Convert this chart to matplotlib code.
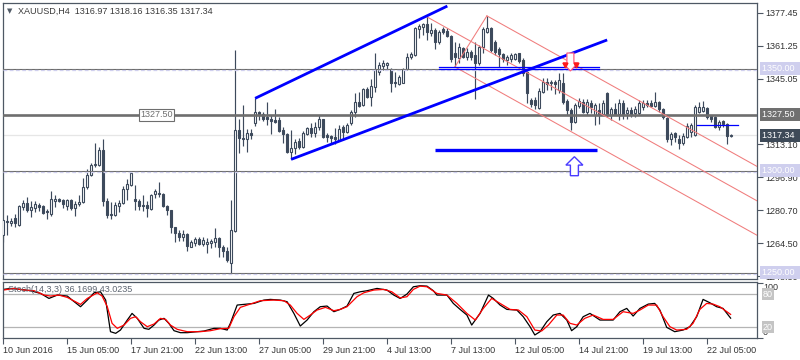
import matplotlib
matplotlib.use("Agg")
import matplotlib.pyplot as plt
import numpy as np
from matplotlib.patches import FancyArrow

plt.rcParams['font.family'] = ['Liberation Sans', 'DejaVu Sans']

# XAUUSD H4 candles, 10 Jun - 22 Jul 2016
opens = [
    1268.5, 1275.0, 1274.6, 1276.9, 1273.6, 1282.3, 1284.3, 1281.0, 1282.0, 1283.1,
    1282.6, 1280.3, 1278.7, 1285.3, 1286.3, 1285.6, 1283.0, 1285.6, 1282.0, 1283.6,
    1284.8, 1292.0, 1297.9, 1302.7, 1302.9, 1310.4, 1285.3, 1279.0, 1278.2, 1283.0,
    1284.0, 1291.0, 1293.2, 1286.1, 1285.3, 1283.3, 1283.3, 1281.5, 1288.6, 1289.2,
    1288.6, 1283.0, 1280.7, 1272.4, 1269.4, 1267.7, 1269.0, 1262.8, 1264.8, 1266.4,
    1264.0, 1264.1, 1264.8, 1265.3, 1266.9, 1262.8, 1260.8, 1254.9, 1270.7, 1319.9,
    1316.2, 1315.4, 1318.4, 1323.2, 1328.9, 1327.8, 1326.2, 1325.5, 1324.9, 1324.9,
    1320.0, 1318.0, 1309.3, 1311.0, 1314.7, 1311.5, 1318.0, 1320.8, 1318.7, 1321.3,
    1325.2, 1317.5, 1317.0, 1316.7, 1315.1, 1321.3, 1319.2, 1323.6, 1328.9, 1333.8,
    1332.2, 1339.9, 1336.2, 1341.2, 1348.6, 1351.3, 1351.8, 1349.7, 1343.6, 1342.5,
    1343.1, 1349.7, 1355.6, 1356.7, 1369.3, 1370.6, 1371.9, 1367.6, 1368.9, 1363.3,
    1369.3, 1368.6, 1366.0, 1357.8, 1355.1, 1360.0, 1355.9, 1358.3, 1356.7, 1352.9,
    1360.5, 1368.1, 1369.8, 1363.3, 1359.5, 1357.2, 1354.3, 1354.6, 1354.6, 1357.6,
    1354.3, 1348.6, 1334.6, 1334.6, 1330.6, 1338.7, 1343.6, 1342.8, 1343.6, 1339.5,
    1342.8, 1334.1, 1329.7, 1323.9, 1331.7, 1333.8, 1328.9, 1333.3, 1327.2, 1329.7,
    1327.7, 1338.2, 1327.2, 1330.1, 1327.7, 1333.3, 1328.1, 1329.7, 1328.1, 1328.1,
    1331.4, 1333.3, 1333.3, 1331.7, 1333.8, 1330.1, 1326.1, 1315.4, 1318.3, 1315.4,
    1313.4, 1316.4, 1319.0, 1317.5, 1328.9, 1329.4, 1330.6, 1326.8, 1326.4, 1321.6,
    1324.4, 1322.9, 1316.97]
highs = [
    1276.1, 1278.4, 1276.9, 1278.6, 1283.2, 1285.7, 1287.2, 1285.2, 1285.2, 1284.0,
    1283.1, 1281.5, 1290.1, 1288.2, 1286.8, 1286.0, 1286.2, 1286.2, 1285.2, 1288.2,
    1296.7, 1300.7, 1303.7, 1313.4, 1311.7, 1315.4, 1286.5, 1284.8, 1284.8, 1285.6,
    1292.4, 1296.2, 1299.5, 1292.9, 1286.0, 1288.1, 1285.1, 1288.6, 1290.9, 1294.4,
    1289.0, 1283.1, 1281.0, 1272.7, 1271.0, 1271.0, 1269.4, 1266.1, 1267.4, 1267.7,
    1267.4, 1266.9, 1266.4, 1271.9, 1267.4, 1263.6, 1262.8, 1285.6, 1359.2, 1325.3,
    1332.2, 1320.3, 1320.3, 1335.5, 1329.4, 1328.9, 1333.9, 1327.3, 1330.1, 1326.2,
    1321.3, 1318.4, 1320.0, 1315.4, 1315.9, 1319.6, 1321.6, 1323.6, 1324.1, 1327.3,
    1325.5, 1318.4, 1317.5, 1320.8, 1322.4, 1322.4, 1323.6, 1329.8, 1337.9, 1338.7,
    1340.4, 1341.2, 1344.8, 1357.9, 1353.5, 1354.3, 1353.4, 1350.2, 1348.6, 1347.0,
    1350.2, 1357.9, 1358.4, 1370.6, 1371.9, 1372.3, 1375.9, 1372.3, 1369.8, 1368.9,
    1370.3, 1369.8, 1366.5, 1363.3, 1362.8, 1360.8, 1360.0, 1359.2, 1363.3, 1361.7,
    1370.3, 1375.9, 1370.3, 1364.2, 1360.5, 1357.9, 1356.7, 1357.9, 1357.9, 1357.9,
    1355.1, 1349.1, 1335.5, 1336.0, 1340.4, 1345.3, 1345.3, 1344.5, 1344.5, 1347.8,
    1347.8, 1335.3, 1330.6, 1333.1, 1335.5, 1335.0, 1335.0, 1334.7, 1333.1, 1333.1,
    1334.7, 1338.7, 1331.1, 1333.1, 1335.0, 1334.7, 1331.1, 1331.1, 1331.7, 1334.7,
    1334.7, 1334.7, 1334.7, 1338.8, 1334.3, 1330.6, 1326.4, 1319.1, 1319.1, 1317.5,
    1318.3, 1323.6, 1323.6, 1332.2, 1333.8, 1334.3, 1331.4, 1327.2, 1326.8, 1324.8,
    1324.8, 1323.6, 1318.16]
lows = [
    1265.2, 1268.6, 1273.1, 1272.4, 1273.1, 1280.7, 1279.8, 1277.3, 1279.8, 1280.3,
    1279.0, 1276.2, 1278.1, 1282.3, 1284.8, 1282.0, 1281.0, 1280.7, 1277.8, 1282.6,
    1284.3, 1290.9, 1297.4, 1302.0, 1302.5, 1282.8, 1277.0, 1276.4, 1277.7, 1279.8,
    1283.6, 1285.6, 1292.4, 1280.7, 1280.7, 1280.3, 1277.3, 1281.0, 1286.5, 1287.0,
    1282.3, 1278.2, 1269.7, 1265.2, 1265.7, 1265.7, 1260.8, 1262.5, 1263.1, 1263.6,
    1263.1, 1259.5, 1262.0, 1262.8, 1257.8, 1257.8, 1255.4, 1250.0, 1270.2, 1308.5,
    1312.1, 1309.3, 1315.4, 1321.9, 1324.8, 1324.5, 1322.4, 1318.0, 1323.2, 1319.1,
    1313.8, 1308.5, 1305.6, 1308.2, 1310.5, 1311.0, 1317.5, 1316.7, 1316.4, 1320.0,
    1315.9, 1314.2, 1313.5, 1313.1, 1314.7, 1315.1, 1318.4, 1322.4, 1326.2, 1331.4,
    1331.7, 1335.9, 1331.7, 1338.7, 1346.9, 1349.4, 1349.4, 1338.7, 1341.2, 1342.0,
    1342.8, 1349.4, 1354.6, 1356.2, 1364.9, 1366.5, 1364.0, 1366.0, 1359.5, 1362.2,
    1366.9, 1365.6, 1353.4, 1350.9, 1352.9, 1355.1, 1354.3, 1354.3, 1335.3, 1351.8,
    1357.6, 1367.6, 1358.4, 1356.7, 1350.9, 1353.4, 1351.8, 1353.4, 1354.3, 1352.9,
    1346.4, 1333.4, 1331.4, 1330.1, 1330.1, 1337.9, 1339.5, 1339.5, 1337.8, 1338.1,
    1332.8, 1327.2, 1319.9, 1323.4, 1330.6, 1328.1, 1327.2, 1328.1, 1322.3, 1323.1,
    1327.2, 1326.4, 1324.8, 1327.2, 1324.8, 1325.6, 1325.6, 1326.4, 1326.4, 1327.2,
    1329.7, 1331.4, 1331.1, 1331.4, 1328.9, 1325.6, 1314.2, 1312.5, 1314.2, 1310.9,
    1312.5, 1315.9, 1316.4, 1317.0, 1328.4, 1328.9, 1325.6, 1323.9, 1320.8, 1320.0,
    1321.6, 1312.9, 1316.35]
closes = [
    1276.0, 1275.6, 1275.6, 1274.4, 1282.7, 1284.3, 1281.0, 1282.3, 1283.7, 1282.3,
    1279.3, 1279.7, 1286.0, 1286.0, 1285.3, 1283.6, 1285.6, 1282.0, 1283.6, 1284.8,
    1291.9, 1297.9, 1302.9, 1303.4, 1310.4, 1285.3, 1278.5, 1278.3, 1283.1, 1284.3,
    1291.1, 1293.4, 1298.7, 1285.1, 1283.0, 1282.6, 1282.0, 1288.1, 1290.2, 1288.7,
    1283.0, 1280.7, 1272.4, 1269.4, 1267.7, 1269.0, 1263.1, 1265.0, 1266.4, 1264.1,
    1266.1, 1265.0, 1265.6, 1266.9, 1262.5, 1260.8, 1256.2, 1271.0, 1319.9, 1315.9,
    1315.4, 1318.4, 1317.4, 1328.9, 1327.8, 1325.5, 1325.2, 1324.5, 1323.9, 1319.6,
    1317.9, 1309.3, 1311.0, 1314.2, 1311.8, 1318.4, 1320.8, 1318.4, 1321.3, 1325.2,
    1316.7, 1316.7, 1316.2, 1315.4, 1320.3, 1319.2, 1322.4, 1328.9, 1333.8, 1331.7,
    1339.9, 1336.2, 1341.5, 1349.4, 1351.8, 1352.9, 1352.9, 1342.8, 1342.8, 1345.8,
    1349.7, 1355.9, 1357.2, 1369.8, 1370.9, 1371.9, 1368.1, 1368.9, 1363.3, 1368.1,
    1368.1, 1366.0, 1354.6, 1355.6, 1360.5, 1355.6, 1358.3, 1355.6, 1352.9, 1360.8,
    1369.3, 1369.8, 1359.2, 1358.4, 1357.2, 1354.6, 1355.9, 1356.7, 1357.2, 1353.9,
    1347.8, 1337.9, 1332.7, 1332.2, 1339.2, 1343.6, 1342.5, 1343.6, 1342.5, 1344.5,
    1333.6, 1329.7, 1323.9, 1332.2, 1334.3, 1328.9, 1333.8, 1331.4, 1332.2, 1327.2,
    1333.1, 1327.2, 1330.1, 1327.7, 1333.3, 1327.2, 1329.7, 1327.7, 1330.1, 1333.1,
    1333.1, 1332.2, 1331.7, 1333.8, 1330.1, 1326.4, 1315.4, 1318.0, 1316.4, 1313.4,
    1317.0, 1322.0, 1322.4, 1331.4, 1331.4, 1331.1, 1326.4, 1325.6, 1321.3, 1324.1,
    1322.9, 1317.0, 1317.34]

# Stochastic (14,3,3): %K (black) and %D (red), sampled along the bar axis
stoch_k_bar = [0, 1.8, 4.3, 6.8, 9.3, 11.4, 13.5, 16, 17.2, 19.3, 21, 22.7, 24.3, 25.6, 26.8, 28.1,
               29.3, 31, 32.2, 33.5, 35.2, 36.4, 37.7, 38.9, 40.2, 41.4, 42.7, 44.3, 46, 48.5, 50.2,
               52.7, 54.3, 56, 56.8, 58.5, 61, 62.7, 65.2, 66.8, 69.3, 71, 72.7, 74.3, 76, 77.7,
               79.3, 81, 82.7, 84.3, 86, 87.7, 89.3, 91, 93.5, 96, 97.7, 99.3, 101, 102.6, 104.3,
               106, 107.6, 108.5, 111, 112.6, 114.3, 116, 117.2, 119.3, 121.4, 122.6, 124.3, 126,
               128.5, 130.1, 131.8, 133, 134.3, 136, 137.6, 139.3, 141, 142.2, 143.5, 145.1, 146.8,
               149.3, 152.6, 154.3, 156, 157.6, 159.3, 161.4, 163, 164.3, 166, 168, 170.1, 171.8,
               173.5, 175.1, 176.8, 178.5, 180.1, 182]
stoch_k = [88.5, 90.3, 88.5, 86.1, 81.2, 72.1, 78.2, 76.4, 69.1, 57, 69.1, 82.4, 84.2, 69.1, 11.5, 8.5,
           14.5, 32.7, 44.8, 35.8, 17.6, 15.8, 23.6, 32.7, 35.8, 26.7, 13.3, 9.7, 9.7, 11.5, 12.7,
           17.6, 17.6, 14.5, 26.7, 60, 61.8, 63, 69.1, 70.3, 69.1, 66.1, 44.8, 21.8, 32.7, 47.9,
           57, 58.2, 47.9, 52.1, 58.2, 81.2, 84.2, 86.1, 90.3, 87.3, 78.2, 72, 80, 93.3, 95.2,
           94.5, 86.1, 78.2, 78.2, 63, 52.1, 41.8, 23.6, 44.8, 78.2, 72.1, 60, 52.1,
           50.9, 38.8, 20.6, 5.5, 11.5, 29.7, 41.8, 44.8, 32.7, 13.3, 20.6, 38.8, 44.8,
           32.7, 32.7, 47.9, 53.9, 40, 53.9, 61.8, 63, 50.9, 19.4, 11.5, 14.5, 20.6,
           38.8, 70.3, 64.2, 57, 53.9, 36.17]
stoch_d_bar = [0, 2.7, 5.2, 7.7, 10.2, 11.8, 13.9, 16, 19.3, 21, 23.5, 24.7, 26, 27.2, 28.5, 30.2,
               31.8, 33.1, 34.3, 36, 37.7, 39.3, 40.6, 41.8, 43.5, 46, 49.3, 51.8, 54.3, 56.4, 57.7,
               59.3, 61.8, 64.3, 67.7, 70.2, 71.8, 73.5, 75.2, 76.8, 78.5, 80.6, 82.7, 84.3, 86,
               88.5, 90.2, 92.7, 95.2, 97.2, 99.3, 101, 102.6, 104.3, 106, 108.5, 111, 113.5, 116,
               118.1, 120.1, 122.2, 124.3, 126.8, 128.9, 131, 133, 134.7, 136.4, 138.5, 140.1,
               141.8, 143.5, 145.5, 147.6, 150.1, 152.6, 155.1, 157.6, 159.3, 161.4, 163.5, 165.1,
               166.8, 168.5, 171, 172.6, 174.3, 176, 177.6, 179.3, 182]
stoch_d = [87.3, 90.3, 87.3, 86.1, 78.2, 76.4, 78.2, 73.9, 61.2, 72.1, 82.4, 76.4, 57, 26.7, 17.6, 23.6,
           35.8, 38.8, 29.7, 20.6, 25.5, 35.8, 33.9, 23.6, 15.8, 11.5, 11.5, 13.3, 17, 17.6, 38.8,
           55.8, 61.8, 67.9, 69.1, 67.9, 60, 44.8, 33.9, 41.8, 50.9, 55.8, 49.7, 52.1, 57,
           75.2, 82.4, 87.3, 88.5, 84.2, 73, 75.2, 88.5, 94.5, 93.3, 81.2, 78.2, 63, 44.8,
           32.7, 53.9, 72.1, 63, 52.1, 50.9, 38.8, 14.5, 12.7, 23.6, 41.8, 41.8,
           26.7, 23.6, 35.8, 41.8, 33.9, 33.9, 47.9, 44.8, 50.9, 60, 60, 38.8,
           20.6, 14.5, 15.8, 26.7, 52.1, 63, 61.8, 57, 43.02]

date_ticks = [0, 16, 32, 48, 64, 80, 96, 112, 128, 144, 160, 176]
date_labels = ['10 Jun 2016', '15 Jun 05:00', '17 Jun 21:00', '22 Jun 13:00', '27 Jun 05:00',
               '29 Jun 21:00', '4 Jul 13:00', '7 Jul 13:00', '12 Jul 05:00', '14 Jul 21:00',
               '19 Jul 13:00', '22 Jul 05:00']
price_ticks = [1377.45, 1361.25, 1345.05, 1313.10, 1296.90, 1280.70, 1264.50, 1248.30]

# drawn objects
levels = [1350.0, 1300.0, 1250.0]
key_level = 1327.50
bid = 1317.34
upper_trend = ([63, 111.1], [1335.5, 1380.7])
lower_trend = ([72, 151.1], [1305.6, 1364.1])
target_line = ([108.1, 148.6], [1310.2, 1310.2])
break_lines = ([109.1, 149.1], [1351.0, 1349.9])
last_line = ([173.6, 183.8], [1322.3, 1322.3])
fork_pts = [(106, 1375.4), (113, 1350.9), (121, 1375.9)]

candle = '#3d4a5c'
frame = '#4e5864'
lavender = '#cfcfee'

fig = plt.figure(figsize=(8, 3.6), dpi=100)
ax = fig.add_axes([3 / 800, 81 / 360, 754 / 800, 276 / 360])
ax2 = fig.add_axes([3 / 800, 22 / 360, 754 / 800, 56 / 360], sharex=ax)

x = np.arange(len(closes))
o, h, l, c = map(np.array, (opens, highs, lows, closes))
up = c >= o
bot = np.minimum(o, c)
hgt = np.maximum(np.abs(c - o), 0.35)

ax.axhline(bid, color='#e6e6e6', lw=0.9, zorder=1)
ax.vlines(x, l, h, color=candle, lw=0.85, zorder=2)
ax.bar(x[up], hgt[up], bottom=bot[up], width=0.5, color='white', edgecolor=candle, linewidth=0.8, zorder=3)
ax.bar(x[~up], hgt[~up], bottom=bot[~up], width=0.5, color=candle, edgecolor=candle, linewidth=0.8, zorder=3)

for lv in levels:
    ax.axhline(lv, color='#6c6c6c', lw=0.8, zorder=4)
    ax.axhline(lv - 0.6, color=lavender, lw=0.9, ls=(0, (3, 2)), zorder=4)
ax.axhline(key_level, color='#6e6e6e', lw=1.9, zorder=4)
ax.text(38.3, key_level, '1327.50', ha='center', va='center', fontsize=6.5, color='#6e6e6e', zorder=6,
        bbox=dict(boxstyle='square,pad=0.15', fc='white', ec='#6e6e6e', lw=0.8))

xmin, xmax = -0.1, 188.6
# Andrews pitchfork
(x1, y1), (x2, y2), (x3, y3) = fork_pts
mx, my = (x2 + x3) / 2, (y2 + y3) / 2
slope = (my - y1) / (mx - x1)
fork = dict(color='#f07c7c', lw=0.75, zorder=5)
ax.plot([x1, xmax], [y1, y1 + slope * (xmax - x1)], **fork)
ax.plot([x2, xmax], [y2, y2 + slope * (xmax - x2)], **fork)
ax.plot([x3, xmax], [y3, y3 + slope * (xmax - x3)], **fork)
ax.plot([x2, x3], [y2, y3], **fork)

ax.plot(*upper_trend, color='#0000ff', lw=2.0, zorder=6, solid_capstyle='butt')
ax.plot(*lower_trend, color='#0000ff', lw=2.0, zorder=6, solid_capstyle='butt')
ax.plot(*target_line, color='#0000ff', lw=2.4, zorder=6, solid_capstyle='butt')
for yv in break_lines[1]:
    ax.plot(break_lines[0], [yv, yv], color='#0000ff', lw=0.9, zorder=6)
ax.plot(*last_line, color='#0000ff', lw=0.9, zorder=6)

ax.add_patch(FancyArrow(141.9, 1357.7, 0, -8.8, width=1.75, head_width=3.75, head_length=3.9,
                        length_includes_head=True, fc='white', ec='#ff5c80', lw=0.9, zorder=7))
ax.plot([140.6, 143.3], [1351.6, 1351.6], 'v', color='#ff1a1a', ms=3.5, zorder=8)
ax.add_patch(FancyArrow(142.9, 1297.6, 0, 9.3, width=2.0, head_width=4.25, head_length=4.1,
                        length_includes_head=True, fc='white', ec='#4a3cff', lw=1.0, zorder=7))

ax.set_xlim(xmin, xmax)
ax.set_ylim(1247.0, 1382.2)
ax.yaxis.tick_right()
ax.set_yticks(price_ticks, [f'{p:.2f}' for p in price_ticks])
ax.tick_params(axis='y', length=4, width=0.8, color=frame, labelsize=6.5, labelcolor='#333333', pad=2)
ax.tick_params(axis='x', bottom=False, labelbottom=False)

tag_tr = ax.get_yaxis_transform()
for val, txt, bg, fg in [(1350.0, '1350.00', lavender, 'white'), (key_level, '1327.50', '#707070', 'white'),
                         (bid, '1317.34', '#3e4a58', 'white'), (1300.0, '1300.00', lavender, 'white'),
                         (1250.0, '1250.00', lavender, 'white')]:
    ax.text(1.006, val, txt + '  ', transform=tag_tr, ha='left', va='center', fontsize=6.5, color=fg,
            clip_on=False, zorder=10, bbox=dict(boxstyle='square,pad=0.22', fc=bg, ec='none'))

# stochastic panel
ax2.axhline(80, color='#b4b4b4', lw=0.9)
ax2.axhline(20, color='#b4b4b4', lw=0.9)
ax2.plot(stoch_k_bar, stoch_k, color='black', lw=0.9)
ax2.plot(stoch_d_bar, stoch_d, color='#ff0000', lw=0.9)
ax2.set_ylim(0, 102)
ax2.yaxis.tick_right()
ax2.set_yticks([0, 100], ['', ''])
ax2.tick_params(axis='y', length=4, width=0.8, color=frame)
ax2.set_xticks(date_ticks, date_labels)
ax2.tick_params(axis='x', length=4, width=0.8, color=frame, labelsize=6.5, labelcolor='#333333', pad=2)
for lbl in ax2.get_xticklabels():
    lbl.set_ha('left')
s_tr = ax2.get_yaxis_transform()
ax2.text(1.008, 0.9, '100', transform=ax2.transAxes, va='center', fontsize=6.5, color='#333333')
ax2.text(1.008, 0.09, '0', transform=ax2.transAxes, va='center', fontsize=6.5, color='#333333')
for val in (80, 20):
    ax2.text(1.008, val, str(val), transform=s_tr, va='center', fontsize=6.5, color='white', clip_on=False,
             bbox=dict(boxstyle='square,pad=0.15', fc='#c4c4c4', ec='none'))
ax2.text(0.007, 0.86, 'Stoch(14,3,3) 36.1699 43.0235', transform=ax2.transAxes, va='center', fontsize=6.5,
         color='#5c6470', zorder=10)

for a in (ax, ax2):
    for sp in a.spines.values():
        sp.set_color(frame)
        sp.set_linewidth(0.9)

fig.text(10 / 800, 1 - 11 / 360, '▼', family='DejaVu Sans', fontsize=5, ha='center', va='center', color='#505a66')
fig.text(18 / 800, 1 - 11 / 360, 'XAUUSD,H4  1316.97 1318.16 1316.35 1317.34', fontsize=6.5, va='center',
         color='#3a3a3a')

fig.savefig('out.png', dpi=100)
